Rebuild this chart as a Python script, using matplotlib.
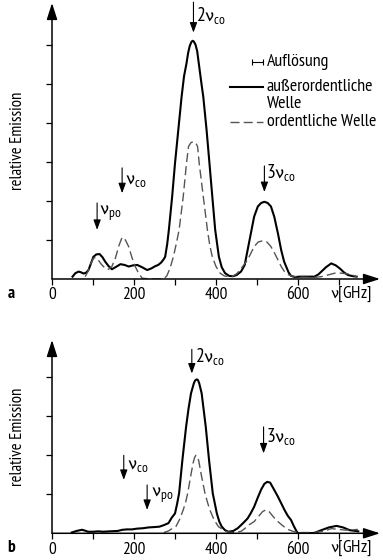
import matplotlib
matplotlib.use("Agg")
import matplotlib.pyplot as plt
import numpy as np

# ---------------------------------------------------------
# DATA
# ---------------------------------------------------------
# panel a: ausserordentliche Welle (solid)
a_solid_x = [50, 57, 65, 71, 77, 83, 89, 95, 101, 108, 116, 123, 130, 138, 146, 156,
             167, 177, 187, 198, 208, 220, 232, 242, 252, 259, 266, 272, 276, 281,
             285, 293, 300, 308, 316, 322, 328, 332, 336, 340, 343, 346, 350, 354,
             358, 364, 369, 377, 384, 391, 398, 407, 414, 422, 432, 441, 450, 461,
             470, 477, 485, 493, 502, 510, 518, 526, 534, 542, 551, 559, 566, 571,
             577, 583, 592, 605, 624, 640, 650, 657, 668, 681, 692, 702, 712, 722,
             735, 743]
a_solid_y = [0.06, 0.15, 0.19, 0.17, 0.14, 0.16, 0.23, 0.40, 0.57, 0.63, 0.64, 0.56,
             0.44, 0.33, 0.25, 0.31, 0.38, 0.36, 0.32, 0.35, 0.36, 0.30, 0.23, 0.27,
             0.33, 0.36, 0.42, 0.50, 0.57, 0.90, 1.26, 2.11, 2.97, 3.82, 4.67, 5.20,
             5.53, 5.80, 5.98, 6.08, 6.11, 6.09, 6.01, 5.85, 5.53, 5.05, 4.67, 3.82,
             2.97, 2.11, 1.26, 0.57, 0.30, 0.15, 0.08, 0.07, 0.10, 0.19, 0.36, 0.74,
             1.17, 1.60, 1.86, 1.95, 1.98, 1.95, 1.86, 1.60, 1.17, 0.74, 0.45, 0.32,
             0.17, 0.08, 0.05, 0.06, 0.06, 0.06, 0.12, 0.19, 0.30, 0.40, 0.35, 0.27,
             0.17, 0.10, 0.07, 0.06]

# panel a: ordentliche Welle (dashed)
a_dash_x = [81, 88, 95, 101, 106, 112, 120, 130, 138, 146, 155, 163, 171, 179, 187,
            195, 203, 211, 220, 240, 260, 272, 280, 288, 296, 303, 310, 320, 328,
            333, 339, 345, 350, 355, 359, 369, 379, 385, 391, 400, 410, 420, 430,
            440, 450, 457, 467, 477, 485, 493, 503, 514, 524, 534, 543, 551, 559,
            567, 575, 583, 600, 624, 640, 657, 672, 690, 705, 722, 733, 743]
a_dash_y = [0.06, 0.20, 0.40, 0.53, 0.55, 0.50, 0.38, 0.27, 0.25, 0.32, 0.55, 0.85,
            1.07, 1.00, 0.83, 0.55, 0.32, 0.15, 0.02, 0.0, 0.0, 0.0, 0.08, 0.28,
            0.57, 0.90, 1.26, 2.11, 2.97, 3.40, 3.50, 3.52, 3.50, 3.40, 2.97, 2.11,
            1.26, 0.85, 0.57, 0.32, 0.15, 0.08, 0.06, 0.07, 0.13, 0.21, 0.35, 0.49,
            0.66, 0.83, 0.95, 0.98, 0.95, 0.83, 0.66, 0.49, 0.32, 0.19, 0.12, 0.08,
            0.05, 0.04, 0.04, 0.06, 0.10, 0.15, 0.15, 0.13, 0.10, 0.06]

# panel b: ausserordentliche Welle (solid)
b_solid_x = [48, 60, 73, 80, 88, 100, 113, 125, 140, 160, 172, 183, 195, 208, 222,
             235, 250, 262, 273, 284, 292, 300, 305, 310, 318, 327, 333, 339, 346,
             349, 353, 356, 359, 365, 375, 383, 392, 402, 408, 414, 422, 430, 442,
             453, 465, 477, 485, 493, 502, 510, 518, 525, 532, 540, 551, 559, 567,
             575, 583, 590, 596, 600, 620, 640, 657, 675, 694, 710, 726, 747]
b_solid_y = [0.02, 0.06, 0.09, 0.07, 0.04, 0.04, 0.05, 0.04, 0.05, 0.06, 0.09, 0.10,
             0.10, 0.12, 0.13, 0.15, 0.16, 0.17, 0.21, 0.26, 0.40, 0.51, 0.75, 1.03,
             1.88, 2.73, 3.20, 3.59, 3.85, 3.92, 3.95, 3.93, 3.85, 3.59, 2.73, 1.88,
             1.03, 0.51, 0.30, 0.17, 0.08, 0.04, 0.06, 0.13, 0.25, 0.38, 0.52, 0.68,
             0.92, 1.12, 1.27, 1.32, 1.30, 1.15, 0.94, 0.77, 0.60, 0.45, 0.34, 0.18,
             0.06, 0.0, 0.0, 0.01, 0.08, 0.15, 0.19, 0.15, 0.08, 0.05]

# panel b: ordentliche Welle (dashed)
b_dash_x = [273, 284, 293, 302, 311, 320, 326, 331, 338, 344, 348, 351, 355, 358,
            365, 373, 379, 385, 395, 406, 416, 426, 440, 450, 461, 470, 481, 493,
            505, 514, 522, 530, 540, 551, 562, 575, 588, 600, 640, 665, 681, 700,
            716, 735, 746]
b_dash_y = [0.02, 0.06, 0.12, 0.17, 0.35, 0.60, 0.80, 1.03, 1.45, 1.80, 1.95, 2.00,
            1.96, 1.85, 1.45, 1.03, 0.80, 0.60, 0.35, 0.17, 0.10, 0.04, 0.02, 0.03,
            0.05, 0.12, 0.22, 0.30, 0.45, 0.56, 0.60, 0.55, 0.42, 0.30, 0.20, 0.10,
            0.05, 0.02, 0.02, 0.06, 0.12, 0.10, 0.08, 0.09, 0.10]

# marker arrows: (label, x, arrow top, arrow head, text x, text y)
a_marks = [("2ν_{co}", 345, 7.10, 6.32, 352, 6.77),
           ("3ν_{co}", 518, 2.90, 2.23, 522, 2.72),
           ("ν_{co}", 171, 2.85, 2.20, 178, 2.54),
           ("ν_{po}", 110, 1.95, 1.26, 115, 1.69)]
b_marks = [("2ν_{co}", 341, 4.72, 4.10, 349, 4.53),
           ("3ν_{co}", 516, 2.73, 2.05, 522, 2.48),
           ("ν_{co}", 175, 2.00, 1.37, 184, 1.75),
           ("ν_{po}", 232, 1.24, 0.60, 241, 0.98)]

major_ticks = [0, 200, 400, 600]
minor_ticks = [100, 300, 500, 700]

# ---------------------------------------------------------
# STYLE
# ---------------------------------------------------------
plt.rcParams['font.family'] = ['PT Sans Narrow', 'DejaVu Sans']
plt.rcParams['mathtext.default'] = 'regular'
FS = 13          # legend text
FS_TICK = 12.5
FS_MARK = 14
DASH = (6.5, 3)
GREY = "#555555"


def setup_axes(ax, ytop, nticks, panel):
    ax.set_xlim(0, 800)
    ax.set_ylim(0, ytop)
    for s in ax.spines.values():
        s.set_visible(False)
    # axes with arrow heads
    arrow = dict(arrowstyle="-|>,head_length=1.0,head_width=0.32", color="k",
                 lw=1.1, shrinkA=0, shrinkB=0)
    ax.annotate("", xy=(1.0, 0), xytext=(0, 0), xycoords="axes fraction",
                arrowprops=arrow, annotation_clip=False)
    ax.annotate("", xy=(0, 1.0), xytext=(0, 0), xycoords="axes fraction",
                arrowprops=arrow, annotation_clip=False)
    ax.set_xticks(major_ticks)
    ax.set_xticks(minor_ticks, minor=True)
    ax.set_xticklabels([str(t) for t in major_ticks], fontsize=FS_TICK)
    ax.set_yticks(np.arange(1, nticks + 1))
    ax.set_yticklabels([])
    ax.tick_params(axis="both", which="both", length=4, width=0.9, pad=2)
    ax.text(729, -0.02 * 7.08 / ytop, "$ν$[GHz]", transform=ax.get_xaxis_transform(),
            ha="center", va="top", fontsize=FS_TICK)
    ax.set_ylabel("relative Emission", fontsize=12, labelpad=13)
    ax.text(-0.135, -0.025 * 7.08 / ytop, panel, transform=ax.transAxes, ha="left",
            va="top", fontsize=FS_TICK, fontweight="bold")


def draw_marks(ax, marks):
    for lab, x, ytop, yhead, tx, ty in marks:
        ax.annotate("", xy=(x, yhead), xytext=(x, ytop),
                    arrowprops=dict(arrowstyle="-|>,head_length=0.6,head_width=0.22",
                                    color="k", lw=0.8, shrinkA=0, shrinkB=0),
                    annotation_clip=False)
        ax.text(tx, ty, "$" + lab + "$", fontsize=FS_MARK, ha="left", va="center")


fig = plt.figure(figsize=(3.83, 5.6), dpi=100)
ax1 = fig.add_axes([0.1358, 0.5018, 0.8564, 0.4929])
ax2 = fig.add_axes([0.1358, 0.0477, 0.8564, 0.3452])

# ==== PANEL a ====
setup_axes(ax1, 7.08, 6, "a")
ax1.plot(a_solid_x, a_solid_y, color="k", lw=1.5, solid_joinstyle="round")
ax1.plot(a_dash_x, a_dash_y, color=GREY, lw=1.0, dashes=DASH)
draw_marks(ax1, a_marks)

# legend drawn by hand
ax1.errorbar([501], [5.56], xerr=[[13], [13]], fmt="none", ecolor="k",
             elinewidth=0.8, capsize=2.5, capthick=0.8)
ax1.text(524, 5.56, "Auflösung", fontsize=FS, va="center")
ax1.plot([434, 515], [4.92, 4.92], color="k", lw=1.5)
ax1.text(524, 4.92, "außerordentliche", fontsize=FS, va="center")
ax1.text(524, 4.50, "Welle", fontsize=FS, va="center")
ax1.plot([434, 515], [4.03, 4.03], color=GREY, lw=1.0, dashes=DASH)
ax1.text(524, 4.03, "ordentliche Welle", fontsize=FS, va="center")

# ==== PANEL b ====
setup_axes(ax2, 4.96, 4, "b")
ax2.plot(b_solid_x, b_solid_y, color="k", lw=1.5, solid_joinstyle="round")
ax2.plot(b_dash_x, b_dash_y, color=GREY, lw=1.0, dashes=DASH)
draw_marks(ax2, b_marks)

fig.savefig("out.png", dpi=100)
